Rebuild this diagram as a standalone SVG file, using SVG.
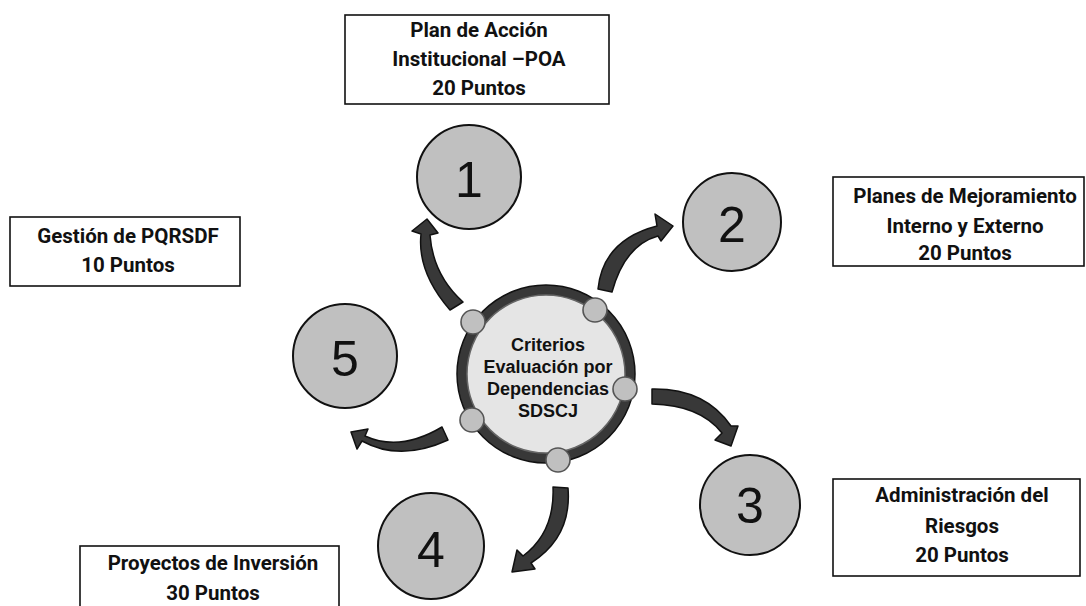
<svg xmlns="http://www.w3.org/2000/svg" width="1086" height="606" viewBox="0 0 1086 606">
<style>
.box{fill:#fff;stroke:#111;stroke-width:1.6}
.bt{font-family:Roboto,"Liberation Sans",sans-serif;font-weight:bold;font-size:20.5px;fill:#111;text-anchor:middle}
.num{fill:#c0c0c0;stroke:#111;stroke-width:2}
.nt{font-family:"Liberation Sans",Arial,sans-serif;font-size:50px;fill:#111;text-anchor:middle}
.arr{fill:#383838;stroke:#111;stroke-width:1.5;stroke-linejoin:round}
.dot{fill:#c0c0c0;stroke:#555;stroke-width:1.6}
.ct{font-family:"Liberation Sans",Arial,sans-serif;font-weight:bold;font-size:18px;fill:#111;text-anchor:middle}
</style>
<rect width="1086" height="606" fill="#fff"/>
<g id="connectors">
<path class="arr" d="M450,310 Q417,272 421,234 L412,231 L427,219 L438,233 L430,235 Q433,275 463,302 Z"/>
<path class="arr" d="M598,289 Q603,240 657,226 L655,214 L673,226 L661,241 L658,236 Q625,245 612,292 Z"/>
<path class="arr" d="M652,389 Q705,388 731,426 L738,426 L731,446 L715,440 L722,433 Q700,405 652,404 Z"/>
<path class="arr" d="M553,487 L568,488 Q572,537 531,563 L535,569 L512,572 L517,550 L523,556 Q555,532 553,487 Z"/>
<path class="arr" d="M442,427 L448,440 Q400,462 362,441 L357,449 L351,432 L368,429 L365,436 Q400,452 442,427 Z"/>
</g>
<g id="center">
<circle cx="546" cy="374" r="89" fill="#383838" stroke="#111" stroke-width="1.5"/>
<circle cx="546" cy="374" r="79" fill="#e5e5e5" stroke="#666" stroke-width="1.5"/>
<circle class="dot" cx="473" cy="322" r="12"/>
<circle class="dot" cx="595" cy="310" r="12"/>
<circle class="dot" cx="625" cy="389" r="12"/>
<circle class="dot" cx="472" cy="420" r="12"/>
<circle class="dot" cx="558" cy="460" r="12"/>
<text class="ct" x="548" y="351">Criterios</text>
<text class="ct" x="548" y="373">Evaluación por</text>
<text class="ct" x="548" y="395">Dependencias</text>
<text class="ct" x="548" y="417">SDSCJ</text>
</g>
<g id="n1">
<circle class="num" cx="469" cy="177" r="52"/>
<text class="nt" x="469" y="197">1</text>
</g>
<g id="n2">
<circle class="num" cx="732" cy="222" r="49"/>
<text class="nt" x="732" y="242">2</text>
</g>
<g id="n3">
<circle class="num" cx="750" cy="505" r="50"/>
<text class="nt" x="750" y="523">3</text>
</g>
<g id="n4">
<circle class="num" cx="431" cy="546" r="53"/>
<text class="nt" x="431" y="567">4</text>
</g>
<g id="n5">
<circle class="num" cx="345" cy="356" r="52"/>
<text class="nt" x="345" y="376">5</text>
</g>
<g id="b1">
<rect class="box" x="345" y="15" width="264" height="89"/>
<text class="bt" x="479" y="37">Plan de Acción</text>
<text class="bt" x="479" y="66">Institucional –POA</text>
<text class="bt" x="479" y="95">20 Puntos</text>
</g>
<g id="b2">
<rect class="box" x="833" y="177" width="251" height="89"/>
<text class="bt" x="965" y="203">Planes de Mejoramiento</text>
<text class="bt" x="965" y="233">Interno y Externo</text>
<text class="bt" x="965" y="260">20 Puntos</text>
</g>
<g id="b3">
<rect class="box" x="833" y="479" width="247" height="97"/>
<text class="bt" x="962" y="502">Administración del</text>
<text class="bt" x="962" y="533">Riesgos</text>
<text class="bt" x="962" y="562">20 Puntos</text>
</g>
<g id="b4">
<rect class="box" x="80" y="546" width="259" height="70"/>
<text class="bt" x="213" y="570">Proyectos de Inversión</text>
<text class="bt" x="213" y="600">30 Puntos</text>
</g>
<g id="b5">
<rect class="box" x="10" y="217" width="230" height="69"/>
<text class="bt" x="128" y="243">Gestión de PQRSDF</text>
<text class="bt" x="128" y="272">10 Puntos</text>
</g>
</svg>
